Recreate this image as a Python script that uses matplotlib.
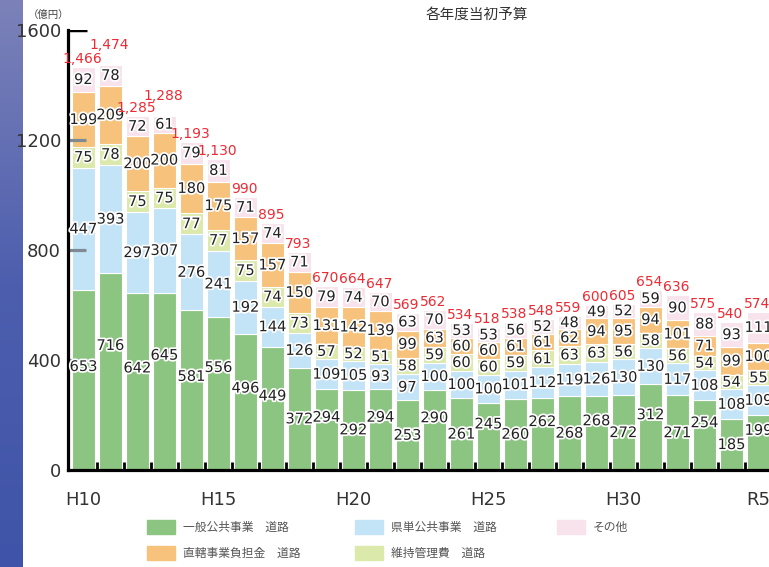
import numpy as np
import matplotlib
matplotlib.use("Agg")
import matplotlib.pyplot as plt
import matplotlib.patheffects as pe
from matplotlib.patches import Rectangle

# === Data ===
years = ["H10", "H11", "H12", "H13", "H14", "H15", "H16", "H17", "H18", "H19",
         "H20", "H21", "H22", "H23", "H24", "H25", "H26", "H27", "H28", "H29",
         "H30", "R1", "R2", "R3", "R4", "R5"]
tick_years = ["H10", "H15", "H20", "H25", "H30", "R5"]

general = [653, 716, 642, 645, 581, 556, 496, 449, 372, 294, 292, 294, 253,
           290, 261, 245, 260, 262, 268, 268, 272, 312, 271, 254, 185, 199]
prefecture = [447, 393, 297, 307, 276, 241, 192, 144, 126, 109, 105, 93, 97,
              100, 100, 100, 101, 112, 119, 126, 130, 130, 117, 108, 108, 109]
maintenance = [75, 78, 75, 75, 77, 77, 75, 74, 73, 57, 52, 51, 58,
               59, 60, 60, 59, 61, 63, 63, 56, 58, 56, 54, 54, 55]
direct = [199, 209, 200, 200, 180, 175, 157, 157, 150, 131, 142, 139, 99,
          63, 60, 60, 61, 61, 62, 94, 95, 94, 101, 71, 99, 100]
other = [92, 78, 72, 61, 79, 81, 71, 74, 71, 79, 74, 70, 63,
         70, 53, 53, 56, 52, 48, 49, 52, 59, 90, 88, 93, 111]
totals = [1466, 1474, 1285, 1288, 1193, 1130, 990, 895, 793, 670, 664, 647, 569,
          562, 534, 518, 538, 548, 559, 600, 605, 654, 636, 575, 540, 574]

series = [general, prefecture, maintenance, direct, other]
colors = ["#8cc481", "#c3e3f7", "#dbe9ab", "#f7c27b", "#f8e3ec"]
names = ["一般公共事業　道路", "県単公共事業　道路", "維持管理費　道路",
         "直轄事業負担金　道路", "その他"]

jp = ["Noto Sans CJK JP", "DejaVu Sans"]

fig = plt.figure(figsize=(7.69, 5.67), dpi=100)

# decorative blue strip on the left
strip = fig.add_axes([0, 0, 23 / 769, 1])
grad = np.linspace(0, 1, 256).reshape(-1, 1)
cmap = matplotlib.colors.LinearSegmentedColormap.from_list("strip", ["#7c82b9", "#4d5eae", "#3f54a8"])
strip.imshow(grad, aspect="auto", cmap=cmap, extent=[0, 1, 0, 1], origin="upper")
strip.axis("off")

ax = fig.add_axes([68 / 769, 97 / 567, 1 - 68 / 769, 440 / 567])
x = np.arange(len(years))
bottom = np.zeros(len(years))
for vals, c in zip(series, colors):
    ax.bar(x, vals, bottom=bottom, width=0.85, color=c, edgecolor="white", linewidth=0.8, zorder=1)
    bottom += np.array(vals)

halo = [pe.withStroke(linewidth=2.5, foreground="white")]

# segment labels
base = np.zeros(len(years))
for k, vals in enumerate(series):
    for i, v in enumerate(vals):
        yy = base[i] + v / 2
        if k == 0:
            yy += (45 if i % 2 else 0) + (50 if v > 450 else 0)
        ax.text(i, yy, str(v), ha="center", va="center", fontsize=10.5,
                color="#222222", path_effects=halo, zorder=4)
    base += np.array(vals)

# total labels (red), raised where they would collide with the previous one
for i, t in enumerate(totals):
    top = bottom[i]
    off = 4
    if i > 0 and t >= 1000 and abs(t - totals[i - 1]) < 50:
        off = 45
    ax.text(i - 0.05, top + off, f"{t:,}", ha="center", va="bottom", fontsize=10,
            color="#ec2b34", zorder=5)

ax.set_xlim(-0.57, 25.39)
ax.set_ylim(0, 1600)
for s in ["top", "right"]:
    ax.spines[s].set_visible(False)
ax.spines["left"].set_linewidth(2.3)
ax.spines["bottom"].set_linewidth(2.3)

ax.set_yticks([0, 400, 800, 1200, 1600])
ax.set_yticklabels(["0", "400", "800", "1200", "1600"])
ax.tick_params(axis="y", length=0, labelsize=13, labelcolor="#333333", pad=5)
# inner tick marks on the y axis
ax.hlines([400, 800, 1200], -0.57, 0.1, color="#7f8b92", linewidth=2.3, zorder=2)
ax.hlines(1600, -0.57, 0.15, color="black", linewidth=2.5, zorder=2)

ax.set_xticks([years.index(y) for y in tick_years])
ax.set_xticklabels(tick_years)
ax.tick_params(axis="x", which="major", length=0, labelsize=13, labelcolor="#333333", pad=15)
ax.set_xticks(np.arange(len(years) - 1) + 0.5, minor=True)
ax.tick_params(axis="x", which="minor", direction="in", length=6, width=2, color="black")

fig.text(28 / 769, 1 - 15 / 567, "（億円）", family=jp, fontsize=7.5, color="#444444",
         ha="left", va="center")
fig.text(477 / 769, 1 - 15 / 567, "各年度当初予算", family=jp, fontsize=10.5,
         color="#333333", ha="center", va="center")

# legend
legend_pos = [(147, 527), (355, 527), (355, 553), (147, 553), (557, 527)]
for (px, py), c, n in zip(legend_pos, colors, names):
    fig.add_artist(Rectangle((px / 769, (567 - py - 7) / 567), 28 / 769, 14 / 567,
                             transform=fig.transFigure, color=c))
    fig.text((px + 36) / 769, (567 - py) / 567, n, family=jp, fontsize=8.5,
             color="#555555", ha="left", va="center")

fig.savefig("out.png", dpi=100)
